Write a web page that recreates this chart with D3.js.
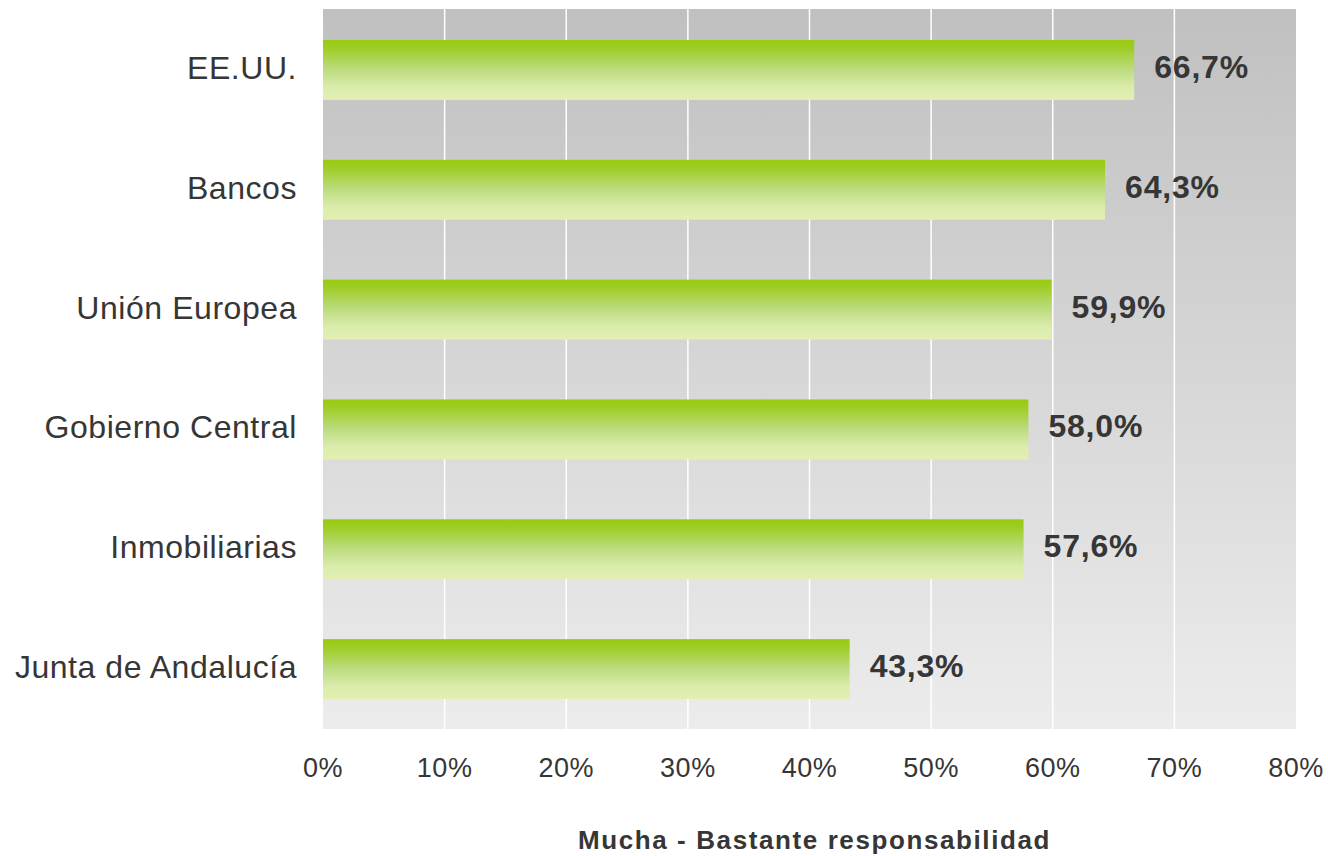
<!DOCTYPE html>
<html>
<head>
<meta charset="utf-8">
<script src="https://cdn.jsdelivr.net/npm/d3@7"></script>
<style>
  body { margin: 0; background: #fff; }
  text { font-family: "Liberation Sans", Arial, sans-serif; fill: #363636; }
</style>
</head>
<body>
<div id="chart"></div>
<script>
// data
const categories = ["EE.UU.", "Bancos", "Unión Europea", "Gobierno Central", "Inmobiliarias", "Junta de Andalucía"]
const values = [66.7, 64.3, 59.9, 58.0, 57.6, 43.3]
const tickValues = [0, 10, 20, 30, 40, 50, 60, 70, 80]
const axisTitle = "Mucha - Bastante responsabilidad"

const width = 1328, height = 856
const margin = { left: 323, top: 9, right: 32, bottom: 127 }
const innerW = width - margin.left - margin.right
const innerH = height - margin.top - margin.bottom

const svg = d3.select("#chart").append("svg")
    .attr("width", width)
    .attr("height", height)

const defs = svg.append("defs")

// plot background, dark grey at top to light grey at bottom
const bg = defs.append("linearGradient").attr("id", "bgGrad")
    .attr("x1", 0).attr("y1", 0).attr("x2", 0).attr("y2", 1)
bg.append("stop").attr("offset", "0%").attr("stop-color", "#c0c0c0")
bg.append("stop").attr("offset", "100%").attr("stop-color", "#ececec")

// bar fill, green on top fading to pale
const bar = defs.append("linearGradient").attr("id", "barGrad")
    .attr("x1", 0).attr("y1", 0).attr("x2", 0).attr("y2", 1)
bar.append("stop").attr("offset", "0%").attr("stop-color", "#98cb10")
bar.append("stop").attr("offset", "12%").attr("stop-color", "#9dcc22")
bar.append("stop").attr("offset", "50%").attr("stop-color", "#bddc80")
bar.append("stop").attr("offset", "78%").attr("stop-color", "#daecab")
bar.append("stop").attr("offset", "100%").attr("stop-color", "#e2f0b3")

const g = svg.append("g")
    .attr("transform", "translate(" + margin.left + "," + margin.top + ")")

const x = d3.scaleLinear().domain([0, 80]).range([0, innerW])
const y = d3.scaleBand().domain(categories).range([1, innerH]).paddingInner(0.5).paddingOuter(0.25)

g.append("rect")
    .attr("width", innerW)
    .attr("height", innerH)
    .style("fill", "url(#bgGrad)")

// white vertical gridlines
g.selectAll("line.grid")
    .data(tickValues.filter(d => d > 0 && d < 80))
    .enter().append("line")
    .attr("class", "grid")
    .attr("x1", d => x(d)).attr("x2", d => x(d))
    .attr("y1", 0).attr("y2", innerH)
    .style("stroke", "#ffffff")
    .style("stroke-width", 1.5)

g.selectAll("rect.bar")
    .data(values)
    .enter().append("rect")
    .attr("class", "bar")
    .attr("x", 0)
    .attr("y", (d, i) => y(categories[i]))
    .attr("width", d => x(d))
    .attr("height", y.bandwidth())
    .style("fill", "url(#barGrad)")

// value labels
g.selectAll("text.val")
    .data(values)
    .enter().append("text")
    .attr("class", "val")
    .attr("x", d => x(d) + 20)
    .attr("y", (d, i) => y(categories[i]) + y.bandwidth() / 2 + 8)
    .style("font-size", "32px")
    .style("font-weight", "bold")
    .style("letter-spacing", "0.8px")
    .text(d => d.toFixed(1).replace(".", ",") + "%")

// category labels
g.selectAll("text.cat")
    .data(categories)
    .enter().append("text")
    .attr("class", "cat")
    .attr("x", -26)
    .attr("y", d => y(d) + y.bandwidth() / 2 + 9)
    .attr("text-anchor", "end")
    .style("font-size", "32px")
    .style("letter-spacing", "0.55px")
    .text(d => d)

// x tick labels
g.selectAll("text.tick")
    .data(tickValues)
    .enter().append("text")
    .attr("class", "tick")
    .attr("x", d => x(d))
    .attr("y", innerH + 48)
    .attr("text-anchor", "middle")
    .style("font-size", "27px")
    .style("letter-spacing", "0.5px")
    .text(d => d + "%")

g.append("text")
    .attr("x", innerW / 2 + 5)
    .attr("y", innerH + 120)
    .attr("text-anchor", "middle")
    .style("font-size", "26px")
    .style("font-weight", "bold")
    .style("letter-spacing", "1.6px")
    .text(axisTitle)
</script>
</body>
</html>
